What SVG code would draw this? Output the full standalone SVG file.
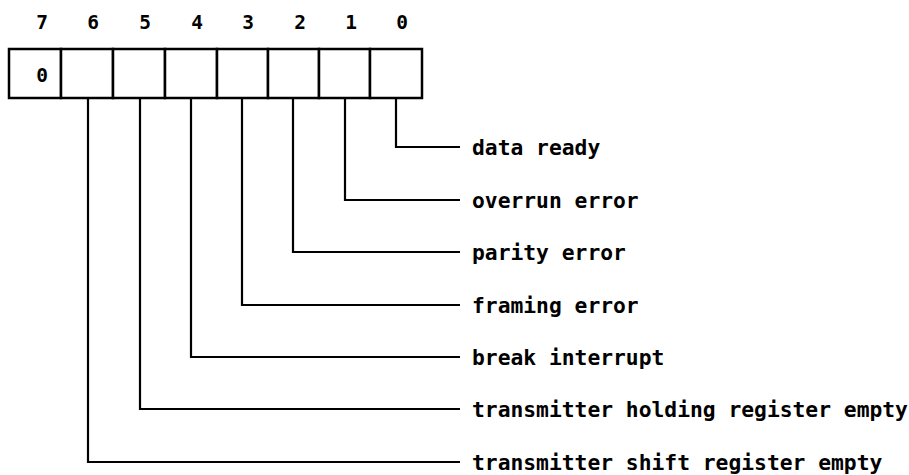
<svg xmlns="http://www.w3.org/2000/svg" width="909" height="475" viewBox="0 0 909 475">
<style>
.bit{font-family:"DejaVu Sans Mono","Liberation Mono",monospace;font-weight:bold;font-size:19.5px;text-anchor:middle;fill:#000}
.lbl{font-family:"DejaVu Sans Mono","Liberation Mono",monospace;font-weight:bold;font-size:21.3px;fill:#000}
.cell{fill:#fff;stroke:#000;stroke-width:2.5}
.conn{fill:none;stroke:#000;stroke-width:2.2}
</style>
<rect width="909" height="475" fill="#fff"/>
<g id="bit-numbers">
<text class="bit" x="42" y="29">7</text>
<text class="bit" x="93" y="29">6</text>
<text class="bit" x="145" y="29">5</text>
<text class="bit" x="197" y="29">4</text>
<text class="bit" x="248" y="29">3</text>
<text class="bit" x="300" y="29">2</text>
<text class="bit" x="351" y="29">1</text>
<text class="bit" x="402" y="29">0</text>
</g>
<g id="register">
<rect class="cell" x="9" y="49" width="52" height="49"/>
<rect class="cell" x="61" y="49" width="52" height="49"/>
<rect class="cell" x="113" y="49" width="52" height="49"/>
<rect class="cell" x="165" y="49" width="52" height="49"/>
<rect class="cell" x="217" y="49" width="51" height="49"/>
<rect class="cell" x="268" y="49" width="51" height="49"/>
<rect class="cell" x="319" y="49" width="51" height="49"/>
<rect class="cell" x="370" y="49" width="52" height="49"/>
<text class="bit" x="42" y="82">0</text>
</g>
<g id="connectors">
<polyline class="conn" points="396,98 396,147 460,147"/>
<polyline class="conn" points="345,98 345,200 460,200"/>
<polyline class="conn" points="293,98 293,252 460,252"/>
<polyline class="conn" points="242,98 242,305 460,305"/>
<polyline class="conn" points="191,98 191,357 460,357"/>
<polyline class="conn" points="140,98 140,409 460,409"/>
<polyline class="conn" points="88,98 88,462 460,462"/>
</g>
<g id="label-0"><text class="lbl" x="472" y="155">data ready</text></g>
<g id="label-1"><text class="lbl" x="472" y="208">overrun error</text></g>
<g id="label-2"><text class="lbl" x="472" y="260">parity error</text></g>
<g id="label-3"><text class="lbl" x="472" y="313">framing error</text></g>
<g id="label-4"><text class="lbl" x="472" y="365">break interrupt</text></g>
<g id="label-5"><text class="lbl" x="472" y="417">transmitter holding register empty</text></g>
<g id="label-6"><text class="lbl" x="472" y="470">transmitter shift register empty</text></g>
</svg>
